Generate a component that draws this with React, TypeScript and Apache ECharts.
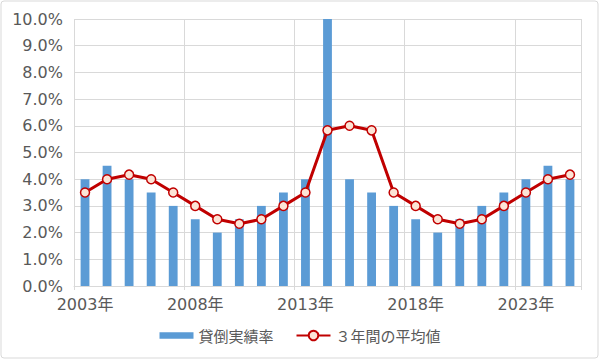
import React, { useEffect, useRef } from "react";
import * as echarts from "echarts";

const years: string[] = [
  "2003年", "2004年", "2005年", "2006年", "2007年", "2008年", "2009年", "2010年",
  "2011年", "2012年", "2013年", "2014年", "2015年", "2016年", "2017年", "2018年",
  "2019年", "2020年", "2021年", "2022年", "2023年", "2024年", "2025年",
];
const lossRate: number[] = [
  4.0, 4.5, 4.0, 3.5, 3.0, 2.5, 2.0, 2.5, 3.0, 3.5, 4.0, 10.0,
  4.0, 3.5, 3.0, 2.5, 2.0, 2.5, 3.0, 3.5, 4.0, 4.5, 4.0,
];
const avg3: number[] = [
  3.5, 4.0, 4.17, 4.0, 3.5, 3.0, 2.5, 2.33, 2.5, 3.0, 3.5, 5.83,
  6.0, 5.83, 3.5, 3.0, 2.5, 2.33, 2.5, 3.0, 3.5, 4.0, 4.17,
];
const seriesNames: string[] = ["貸倒実績率", "３年間の平均値"];

const FONT = "'DejaVu Sans', 'Noto Sans CJK JP', sans-serif";
const CJK = "'Noto Sans CJK JP', sans-serif";
const TEXT = "#595959";
const GRID = "#D9D9D9";

export default function App() {
  const ref = useRef<HTMLDivElement>(null);
  useEffect(() => {
    if (!ref.current) return;
    const chart = echarts.init(ref.current, undefined, { renderer: "svg" });
    chart.setOption({
      animation: false,
      backgroundColor: "#ffffff",
      textStyle: { fontFamily: FONT },
      graphic: [
        {
          type: "rect",
          shape: { x: 1, y: 1, width: 597, height: 357, r: 3 },
          style: { fill: "none", stroke: GRID, lineWidth: 1 },
          silent: true,
        },
      ],
      grid: { left: 74, right: 19, top: 19, bottom: 74, containLabel: false },
      legend: {
        bottom: 12,
        left: "center",
        itemGap: 22,
        itemWidth: 34,
        itemHeight: 12,
        textStyle: { color: TEXT, fontSize: 15, fontFamily: CJK },
        data: [
          { name: seriesNames[0], icon: "path://M0,0H32V6H0Z" },
          { name: seriesNames[1] },
        ],
      },
      xAxis: {
        type: "category",
        data: years,
        boundaryGap: true,
        axisLine: { show: true, lineStyle: { color: GRID, width: 1 } },
        axisTick: { show: true, interval: 4, length: 4, lineStyle: { color: GRID } },
        splitLine: { show: true, interval: 4, lineStyle: { color: GRID, width: 1 } },
        axisLabel: {
          interval: 4,
          color: TEXT,
          fontSize: 16,
          fontFamily: FONT,
          margin: 10,
        },
      },
      yAxis: {
        type: "value",
        min: 0,
        max: 10,
        interval: 1,
        axisLine: { show: false },
        axisTick: { show: false },
        splitLine: { show: true, lineStyle: { color: GRID, width: 1 } },
        axisLabel: {
          color: TEXT,
          fontSize: 16,
          fontFamily: FONT,
          margin: 11,
          formatter: (v: number) => v.toFixed(1) + "%",
        },
      },
      series: [
        {
          name: seriesNames[0],
          type: "bar",
          data: lossRate,
          barWidth: "40%",
          itemStyle: { color: "#5B9BD5" },
        },
        {
          name: seriesNames[1],
          type: "line",
          data: avg3,
          symbol: "circle",
          symbolSize: 9,
          lineStyle: { color: "#C00000", width: 3 },
          itemStyle: { color: "#FCE4D6", borderColor: "#C00000", borderWidth: 1.5 },
          z: 3,
        },
      ],
    });
    return () => chart.dispose();
  }, []);
  return (
    <div
      ref={ref}
      style={{ position: "fixed", left: 0, top: 0, width: 600, height: 360 }}
    />
  );
}
